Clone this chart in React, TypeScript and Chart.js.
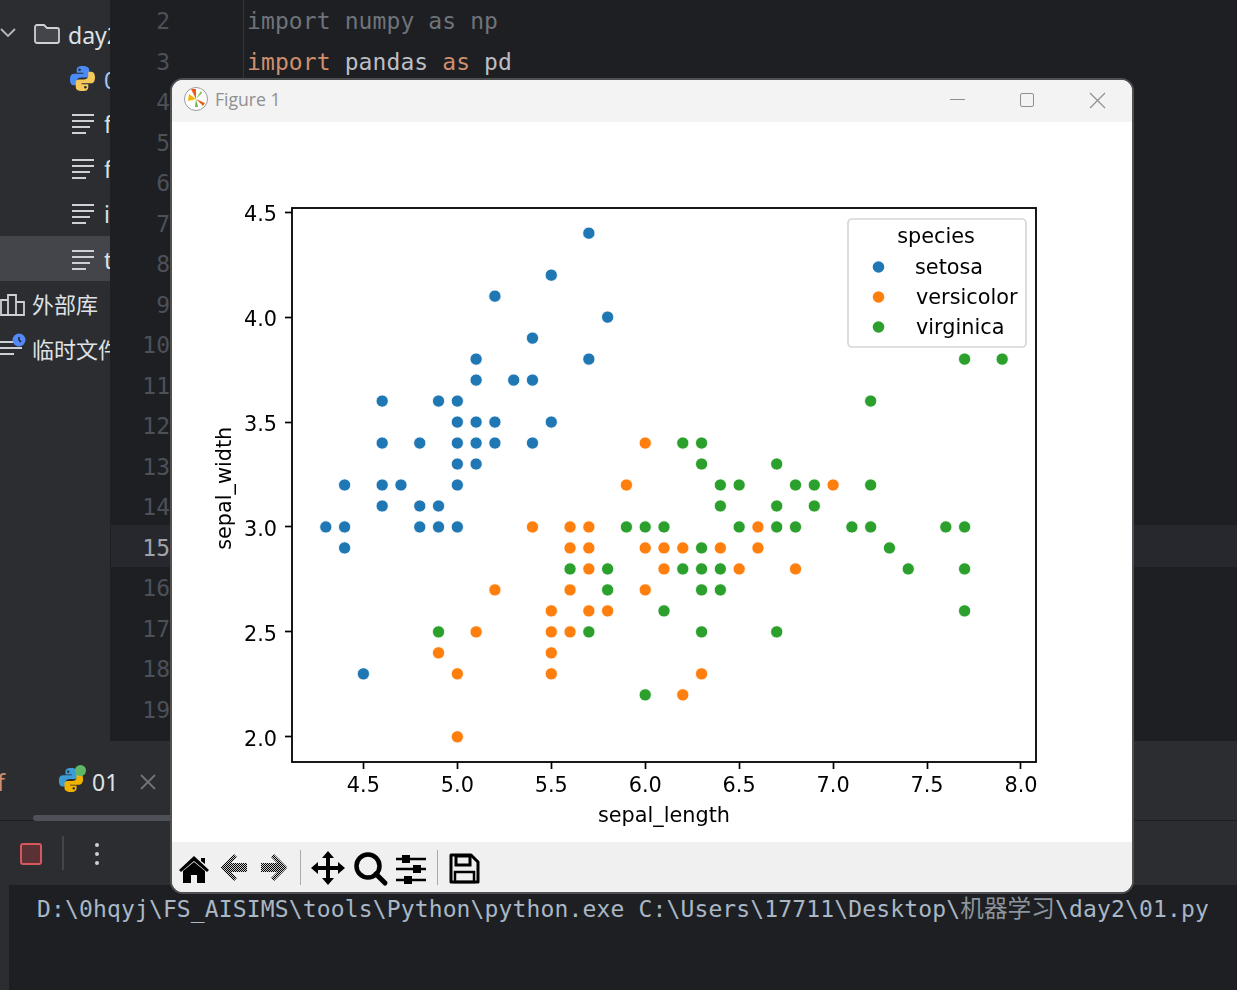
import React, { useEffect, useRef } from "react";
import { Chart, registerables } from "chart.js";

Chart.register(...registerables);

const xTicks = [4.5, 5.0, 5.5, 6.0, 6.5, 7.0, 7.5, 8.0];
const yTicks = [2.0, 2.5, 3.0, 3.5, 4.0, 4.5];
const xLabel = "sepal_length";
const yLabel = "sepal_width";
const legendTitle = "species";
const speciesNames = ["setosa", "versicolor", "virginica"];
const speciesColors = ["#1f77b4", "#ff7f0e", "#2ca02c"];

const setosaX = [5.7, 5.5, 5.2, 5.8, 5.4, 5.1, 5.7, 5.1, 5.3, 5.4, 4.6, 4.9, 5.0, 5.0, 5.1, 5.2, 5.5, 4.6, 4.8, 5.0, 5.1, 5.2, 5.4, 5.0, 5.1, 4.4, 4.6, 4.7, 5.0, 4.6, 4.8, 4.9, 4.3, 4.4, 4.8, 4.9, 5.0, 4.4, 4.5];
const setosaY = [4.4, 4.2, 4.1, 4.0, 3.9, 3.8, 3.8, 3.7, 3.7, 3.7, 3.6, 3.6, 3.6, 3.5, 3.5, 3.5, 3.5, 3.4, 3.4, 3.4, 3.4, 3.4, 3.4, 3.3, 3.3, 3.2, 3.2, 3.2, 3.2, 3.1, 3.1, 3.1, 3.0, 3.0, 3.0, 3.0, 3.0, 2.9, 2.3];

const versicolorX = [6.0, 5.9, 7.0, 5.4, 5.6, 5.7, 6.6, 5.6, 5.7, 6.0, 6.1, 6.2, 6.4, 6.6, 5.7, 6.1, 6.5, 6.8, 5.2, 5.6, 6.0, 5.5, 5.7, 5.8, 5.1, 5.5, 5.6, 4.9, 5.5, 5.0, 5.5, 6.3, 6.2, 5.0];
const versicolorY = [3.4, 3.2, 3.2, 3.0, 3.0, 3.0, 3.0, 2.9, 2.9, 2.9, 2.9, 2.9, 2.9, 2.9, 2.8, 2.8, 2.8, 2.8, 2.7, 2.7, 2.7, 2.6, 2.6, 2.6, 2.5, 2.5, 2.5, 2.4, 2.4, 2.3, 2.3, 2.3, 2.2, 2.0];

const virginicaX = [7.7, 7.9, 7.2, 6.2, 6.3, 6.3, 6.7, 6.4, 6.5, 6.8, 6.9, 7.2, 6.4, 6.7, 6.9, 5.9, 6.0, 6.1, 6.5, 6.7, 6.8, 7.1, 7.2, 7.6, 7.7, 6.3, 7.3, 5.6, 5.8, 6.2, 6.3, 6.4, 7.4, 7.7, 5.8, 6.3, 6.4, 6.1, 7.7, 4.9, 5.7, 6.3, 6.7, 6.0];
const virginicaY = [3.8, 3.8, 3.6, 3.4, 3.4, 3.3, 3.3, 3.2, 3.2, 3.2, 3.2, 3.2, 3.1, 3.1, 3.1, 3.0, 3.0, 3.0, 3.0, 3.0, 3.0, 3.0, 3.0, 3.0, 3.0, 2.9, 2.9, 2.8, 2.8, 2.8, 2.8, 2.8, 2.8, 2.8, 2.7, 2.7, 2.7, 2.6, 2.6, 2.5, 2.5, 2.5, 2.5, 2.2];

const lineNumbers = [2, 3, 4, 5, 6, 7, 8, 9, 10, 11, 12, 13, 14, 15, 16, 17, 18, 19];
const consoleStart = "D:\\0hqyj\\FS_AISIMS\\tools\\Python\\python.exe C:\\Users\\17711\\Desktop\\";
const consoleFolder = "机器学习";
const consoleEnd = "\\day2\\01.py";

const FONT = '"DejaVu Sans", sans-serif';
const MONO = '"DejaVu Sans Mono", monospace';
const CJK = '"Noto Sans", "Noto Sans CJK SC", sans-serif';

const toPoints = (xs: number[], ys: number[]) => xs.map((x, i) => ({ x, y: ys[i] }));

const framePlugin = {
  id: "frame",
  afterDraw(chart: any) {
    const { ctx, chartArea: a } = chart;
    ctx.save();
    ctx.strokeStyle = "#000";
    ctx.lineWidth = 1.8;
    ctx.strokeRect(a.left, a.top, a.right - a.left, a.bottom - a.top);
    // legend box, mirrors the datasets
    const bx = 676, by = 97, bw = 178, bh = 128;
    ctx.beginPath();
    ctx.roundRect(bx, by, bw, bh, 4);
    ctx.fillStyle = "rgba(255,255,255,0.8)";
    ctx.fill();
    ctx.strokeStyle = "#d6d6d6";
    ctx.lineWidth = 1.7;
    ctx.stroke();
    ctx.font = `20.8px ${FONT}`;
    ctx.fillStyle = "#000";
    ctx.textBaseline = "middle";
    ctx.textAlign = "center";
    ctx.fillText(legendTitle, 764, 116);
    ctx.textAlign = "left";
    chart.data.datasets.forEach((d: any, i: number) => {
      const y = 145 + i * 30;
      ctx.beginPath();
      ctx.arc(706.5, y, 5.8, 0, Math.PI * 2);
      ctx.fillStyle = d.backgroundColor;
      ctx.fill();
      ctx.fillStyle = "#000";
      ctx.fillText(d.label, i === 0 ? 743 : 744, y + 2);
    });
    ctx.restore();
  },
};

function PyIcon({ x, y, size = 28, blue = "#4b8bf5", yellow = "#f5c85a" }: any) {
  return (
    <svg style={{ position: "absolute", left: x, top: y }} width={size} height={size} viewBox="0 0 28 28">
      <path d="M14 1c-5 0-6 2-6 4v3h7v1H5C2 9 1 12 1 15s1 6 4 6h3v-4c0-3 2-4 5-4h5c2 0 3-1 3-3V5c0-2-2-4-7-4z" fill={blue} />
      <circle cx="11" cy="5" r="1.3" fill="#2b2d30" />
      <path d="M14 27c5 0 6-2 6-4v-3h-7v-1h10c3 0 4-3 4-6s-1-6-4-6h-3v4c0 3-2 4-5 4h-5c-2 0-3 1-3 3v5c0 2 2 4 7 4z" fill={yellow} />
      <circle cx="17" cy="23" r="1.3" fill="#2b2d30" />
    </svg>
  );
}

function FileIcon({ y }: { y: number }) {
  const bars = [[0, 22], [6, 22], [12, 18], [18, 14]];
  return (
    <div style={{ position: "absolute", left: 72, top: y - 10, width: 24, height: 24 }}>
      {bars.map(([t, w], i) => (
        <div key={i} style={{ position: "absolute", left: 0, top: t, width: w, height: 2, background: "#ced0d6" }} />
      ))}
    </div>
  );
}

function Txt({ x, y, children, color = "#dfe1e5", size = 22, font = CJK, extra = {} }: any) {
  return (
    <div style={{ position: "absolute", left: x, top: y, transform: "translateY(-50%)", color, fontSize: size, fontFamily: font, whiteSpace: "pre", lineHeight: 1, ...extra }}>
      {children}
    </div>
  );
}

function Toolbar() {
  return (
    <svg style={{ position: "absolute", left: 0, top: 0 }} width={960} height={50} viewBox="0 0 960 50">
      <defs>
        <pattern id="dither" width="2" height="2" patternUnits="userSpaceOnUse">
          <rect width="1" height="1" fill="#000" />
          <rect x="1" y="1" width="1" height="1" fill="#000" />
          <rect x="1" width="1" height="1" fill="#ccc" />
          <rect y="1" width="1" height="1" fill="#ccc" />
        </pattern>
      </defs>
      <g transform="translate(-172 -842)">
        <path d="M179 870l15-14 15 14-2 2-13-11-13 11z M183 871l11-9 11 9v12h-8v-8h-6v8h-8z M201 858h4v6l-4-3z" fill="#000" />
        <path d="M221 867l13-13 3 3-6 6h16v9h-16l6 6-3 3-13-13z" fill="url(#dither)" />
        <path d="M287 867l-13-13-3 3 6 6h-16v9h16l-6 6 3 3 13-13z" fill="url(#dither)" />
        <rect x="300" y="850" width="1" height="35" fill="#aaa" />
        <path d="M328 851l6 7h-4v8h8v-4l7 6-7 6v-4h-8v8h4l-6 7-6-7h4v-8h-8v4l-7-6 7-6v4h8v-8h-4z" fill="#000" />
        <circle cx="368" cy="866" r="11.5" fill="none" stroke="#000" strokeWidth="4.5" />
        <path d="M376 874l9 9" stroke="#000" strokeWidth="5" strokeLinecap="round" />
        <path d="M396 859h30M396 869h30M396 880h30" stroke="#000" strokeWidth="2.5" />
        <rect x="402" y="855" width="8" height="8" fill="#000" />
        <rect x="413" y="865" width="8" height="8" fill="#000" />
        <rect x="404" y="876" width="8" height="8" fill="#000" />
        <rect x="437" y="850" width="1" height="35" fill="#aaa" />
        <path d="M451 855h20l7 7v20h-27z" fill="none" stroke="#000" strokeWidth="3" strokeLinejoin="round" />
        <rect x="456" y="856" width="14" height="9" fill="none" stroke="#000" strokeWidth="3" />
        <rect x="455" y="872" width="19" height="10" fill="none" stroke="#000" strokeWidth="2.5" />
      </g>
    </svg>
  );
}

export default function App() {
  const ref = useRef<HTMLCanvasElement | null>(null);

  useEffect(() => {
    if (!ref.current) return;
    const xs = [setosaX, versicolorX, virginicaX];
    const ys = [setosaY, versicolorY, virginicaY];
    const chart = new Chart(ref.current, {
      type: "scatter",
      data: {
        datasets: speciesNames.map((label, i) => ({
          label,
          data: toPoints(xs[i], ys[i]),
          backgroundColor: speciesColors[i],
          borderColor: "#ffffff",
          borderWidth: 0.8,
          pointRadius: 6.1,
        })),
      },
      options: {
        animation: false,
        responsive: false,
        devicePixelRatio: 1,
        layout: { padding: { top: 86, right: 96, left: 0, bottom: 0 } },
        plugins: { legend: { display: false }, tooltip: { enabled: false } },
        scales: {
          x: {
            type: "linear",
            min: 4.12,
            max: 8.08,
            afterBuildTicks: (axis: any) => { axis.ticks = xTicks.map((value) => ({ value })); },
            afterFit: (axis: any) => { axis.height = 80; },
            grid: { display: true, drawOnChartArea: false, drawTicks: true, tickLength: 7, tickColor: "#000", tickWidth: 1.7 },
            border: { display: false },
            ticks: {
              autoSkip: false, maxRotation: 0, padding: 5, color: "#000",
              font: { family: FONT, size: 20.8 },
              callback: (v: any) => Number(v).toFixed(1),
            },
            title: { display: true, text: xLabel, color: "#000", font: { family: FONT, size: 20.8 }, padding: { top: 0, bottom: 13 } },
          },
          y: {
            type: "linear",
            min: 1.88,
            max: 4.52,
            afterBuildTicks: (axis: any) => { axis.ticks = yTicks.map((value) => ({ value })); },
            afterFit: (axis: any) => { axis.width = 120; },
            grid: { display: true, drawOnChartArea: false, drawTicks: true, tickLength: 7, tickColor: "#000", tickWidth: 1.7 },
            border: { display: false },
            ticks: {
              autoSkip: false, padding: 8, color: "#000",
              font: { family: FONT, size: 20.8, lineHeight: 0.35 },
              callback: (v: any) => ["", Number(v).toFixed(1)],
            },
            title: { display: true, text: yLabel + " ", color: "#000", font: { family: FONT, size: 20.8 }, padding: { top: 41.5, bottom: 0 } },
          },
        },
      } as any,
      plugins: [framePlugin as any],
    });
    return () => chart.destroy();
  }, []);

  return (
    <div style={{ position: "absolute", left: 0, top: 0, width: 1237, height: 990, overflow: "hidden", background: "#1e1f22" }}>
      {/* editor */}
      <div style={{ position: "absolute", left: 111, top: 525, width: 1126, height: 42, background: "#26282e" }} />
      <div style={{ position: "absolute", left: 243, top: 0, width: 1, height: 741, background: "#313438" }} />
      {lineNumbers.map((n, i) => (
        <div key={n} style={{ position: "absolute", left: 120, width: 50, textAlign: "right", top: 21 + i * 40.5, transform: "translateY(-50%)", fontFamily: MONO, fontSize: 23, lineHeight: 1, color: n === 15 ? "#a1a3ab" : "#4b5059" }}>{n}</div>
      ))}
      <Txt x={247} y={21} size={23} font={MONO} color="#6f737a" extra={{ letterSpacing: 0.1 }}>import numpy as np</Txt>
      <Txt x={247} y={62} size={23} font={MONO} color="#bcbec4" extra={{ letterSpacing: 0.1 }}><span style={{ color: "#cf8e6d" }}>import</span> pandas <span style={{ color: "#cf8e6d" }}>as</span> pd</Txt>

      {/* project sidebar */}
      <div style={{ position: "absolute", left: 0, top: 0, width: 110, height: 741, background: "#2b2d30", overflow: "hidden" }}>
        <div style={{ position: "absolute", left: 0, top: 236, width: 110, height: 45, background: "#43454a" }} />
        <Txt x={32} y={-10} size={22}>iris.csv</Txt>
        <svg style={{ position: "absolute", left: 0, top: 26 }} width={18} height={14}><path d="M1 3l7 7 7-7" fill="none" stroke="#b4b8bf" strokeWidth="1.8" /></svg>
        <svg style={{ position: "absolute", left: 33, top: 22 }} width={28} height={24}><path d="M2 5a2 2 0 012-2h7l3 3h10a2 2 0 012 2v11a2 2 0 01-2 2H4a2 2 0 01-2-2z" fill="#43454a" stroke="#ced0d6" strokeWidth="1.8" /></svg>
        <Txt x={68} y={35} size={23}>day2</Txt>
        <PyIcon x={69} y={65} size={27} />
        <Txt x={104} y={80} size={23} color="#a9c9f5">0</Txt>
        <FileIcon y={124} /><Txt x={104} y={124} size={23}>f</Txt>
        <FileIcon y={169} /><Txt x={104} y={169} size={23}>f</Txt>
        <FileIcon y={214} /><Txt x={104} y={214} size={23}>i</Txt>
        <FileIcon y={260} /><Txt x={104} y={260} size={23}>t</Txt>
        <svg style={{ position: "absolute", left: 0, top: 292 }} width={26} height={24}><path d="M1 8h7v15H1zM8 3h8v20H8zM16 10h8v13h-8z" fill="none" stroke="#ced0d6" strokeWidth="1.8" /></svg>
        <Txt x={32} y={303} size={22} font='"Noto Sans CJK SC", sans-serif'>外部库</Txt>
        <svg style={{ position: "absolute", left: 0, top: 333 }} width={28} height={28}><path d="M0 9h14M0 15h22M0 21h14" stroke="#ced0d6" strokeWidth="2" /><circle cx="19" cy="7" r="6.5" fill="#548af7" /><path d="M19 4v3l2 2" stroke="#1e1f22" strokeWidth="1.5" fill="none" /></svg>
        <Txt x={32} y={348} size={22} font='"Noto Sans CJK SC", sans-serif'>临时文件</Txt>
      </div>

      {/* run tool window */}
      <div style={{ position: "absolute", left: 0, top: 741, width: 1237, height: 144, background: "#2b2d30" }} />
      <div style={{ position: "absolute", left: 0, top: 820, width: 1237, height: 1, background: "#1e1f22" }} />
      <div style={{ position: "absolute", left: 33, top: 815, width: 150, height: 6, borderRadius: 3, background: "#4e5157" }} />
      <Txt x={-3} y={782} size={23} color="#cf8e6d">f</Txt>
      <PyIcon x={58} y={767} size={26} blue="#3d9cd6" yellow="#f0b400" />
      <div style={{ position: "absolute", left: 75, top: 765, width: 11, height: 11, borderRadius: "50%", background: "#5fb865" }} />
      <Txt x={92} y={782} size={23}>01</Txt>
      <svg style={{ position: "absolute", left: 140, top: 774 }} width={16} height={16}><path d="M1 1l14 14M15 1L1 15" stroke="#6f737a" strokeWidth="1.8" /></svg>
      <div style={{ position: "absolute", left: 20, top: 843, width: 22, height: 22, boxSizing: "border-box", border: "2px solid #d4585c", borderRadius: 3, background: "#5a3236" }} />
      <div style={{ position: "absolute", left: 62, top: 836, width: 2, height: 34, background: "#43454a" }} />
      {[843, 852, 861].map((t) => (
        <div key={t} style={{ position: "absolute", left: 95, top: t, width: 4, height: 4, borderRadius: "50%", background: "#ced0d6" }} />
      ))}
      <div style={{ position: "absolute", left: 0, top: 885, width: 9, height: 105, background: "#2b2d30" }} />
      <Txt x={37} y={908} size={23} font={MONO} color="#a9b7c6" extra={{ letterSpacing: 0.14 }}>
        {consoleStart}
        <span style={{ fontFamily: '"Noto Sans CJK SC", sans-serif', fontSize: 23.6, color: "#8c949e" }}>{consoleFolder}</span>
        {consoleEnd}
      </Txt>

      {/* figure window */}
      <div style={{ position: "absolute", left: 170, top: 78, width: 964, height: 816, boxSizing: "border-box", border: "2px solid #4f5052", borderRadius: 13, background: "#ffffff", overflow: "hidden" }}>
        <div style={{ position: "absolute", left: 0, top: 0, width: 960, height: 42, background: "#f3f3f3" }}>
          <svg style={{ position: "absolute", left: 11, top: 6 }} width={26} height={26} viewBox="0 0 26 26">
            <circle cx="13" cy="13" r="11.5" fill="#fff" stroke="#999" strokeWidth="1" />
            <path d="M13 13L6 8l-1 7z" fill="#f5b400" />
            <path d="M13 13L8 3l5 0z" fill="#f05a14" />
            <path d="M13 13l7 7 2-3z" fill="#e8641e" />
            <path d="M13 13l5-8 1 2z" fill="#7cc242" />
            <path d="M13 13l-1 8 3 0z" fill="#63b548" />
          </svg>
          <Txt x={43} y={19.5} size={17.6} font='"Open Sans", sans-serif' color="#8f8f8f">Figure 1</Txt>
          <div style={{ position: "absolute", left: 778, top: 19, width: 15, height: 1, background: "#8f8f8f" }} />
          <div style={{ position: "absolute", left: 848, top: 13, width: 14, height: 14, boxSizing: "border-box", border: "1.5px solid #8f8f8f", borderRadius: 2 }} />
          <svg style={{ position: "absolute", left: 917, top: 12 }} width={17} height={17}><path d="M1 1l15 15M16 1L1 16" stroke="#8f8f8f" strokeWidth="1.2" /></svg>
        </div>
        <canvas ref={ref} width={960} height={720} style={{ position: "absolute", left: 0, top: 42, width: 960, height: 720 }} />
        <div style={{ position: "absolute", left: 0, top: 762, width: 960, height: 50, background: "#f0f0f0" }}>
          <Toolbar />
        </div>
      </div>
    </div>
  );
}
